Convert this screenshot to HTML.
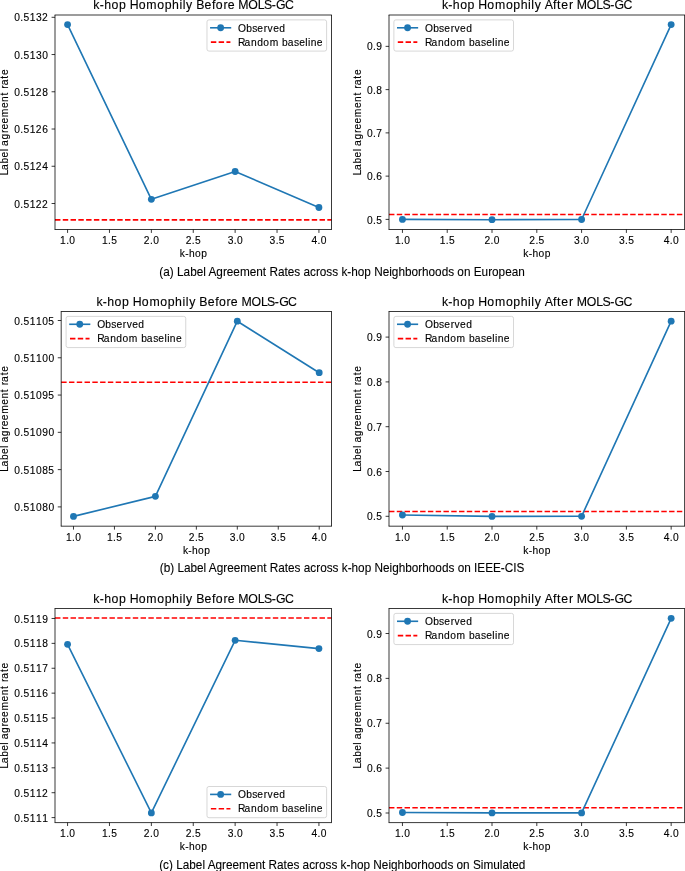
<!DOCTYPE html>
<html><head><meta charset="utf-8"><style>
html,body{margin:0;padding:0;background:#fff;}
body{width:685px;height:871px;overflow:hidden;}
svg{display:block;will-change:transform;}
text{font-family:"Liberation Sans",sans-serif;fill:#000;}
text.c{stroke:#000;stroke-width:0.12px;}
text.cap{stroke:#000;stroke-width:0.1px;}
</style></head><body>
<svg width="685" height="871" viewBox="0 0 685 871">
<rect x="0" y="0" width="685" height="871" fill="#fff"/>
<line x1="55.00" y1="219.85" x2="331.50" y2="219.85" stroke="#ff0000" stroke-width="1.62" stroke-dasharray="5.43 2.35"/>
<polyline points="67.57,24.60 151.36,199.30 235.14,171.50 318.93,207.50" fill="none" stroke="#1f77b4" stroke-width="1.62" stroke-linejoin="round" stroke-linecap="butt"/>
<circle cx="67.57" cy="24.60" r="3.42" fill="#1f77b4"/>
<circle cx="151.36" cy="199.30" r="3.42" fill="#1f77b4"/>
<circle cx="235.14" cy="171.50" r="3.42" fill="#1f77b4"/>
<circle cx="318.93" cy="207.50" r="3.42" fill="#1f77b4"/>
<line x1="55.00" y1="15.00" x2="55.00" y2="229.50" stroke="#000" stroke-width="0.78"/>
<line x1="331.50" y1="15.00" x2="331.50" y2="229.50" stroke="#000" stroke-width="0.78"/>
<line x1="54.61" y1="15.00" x2="331.89" y2="15.00" stroke="#000" stroke-width="0.78"/>
<line x1="54.61" y1="229.50" x2="331.89" y2="229.50" stroke="#000" stroke-width="0.78"/>
<line x1="67.57" y1="229.50" x2="67.57" y2="232.92" stroke="#000" stroke-width="0.78"/>
<text class="c" x="-7.56 -1.43 1.79" y="0" font-size="10.26" transform="translate(67.57 243.80) scale(1.0000 1)">1.0</text>
<line x1="109.46" y1="229.50" x2="109.46" y2="232.92" stroke="#000" stroke-width="0.78"/>
<text class="c" x="-7.56 -1.43 1.77" y="0" font-size="10.26" transform="translate(109.46 243.80) scale(1.0000 1)">1.5</text>
<line x1="151.36" y1="229.50" x2="151.36" y2="232.92" stroke="#000" stroke-width="0.78"/>
<text class="c" x="-7.64 -1.42 1.79" y="0" font-size="10.26" transform="translate(151.36 243.80) scale(1.0000 1)">2.0</text>
<line x1="193.25" y1="229.50" x2="193.25" y2="232.92" stroke="#000" stroke-width="0.78"/>
<text class="c" x="-7.64 -1.42 1.77" y="0" font-size="10.26" transform="translate(193.25 243.80) scale(1.0000 1)">2.5</text>
<line x1="235.14" y1="229.50" x2="235.14" y2="232.92" stroke="#000" stroke-width="0.78"/>
<text class="c" x="-7.50 -1.42 1.79" y="0" font-size="10.26" transform="translate(235.14 243.80) scale(1.0000 1)">3.0</text>
<line x1="277.04" y1="229.50" x2="277.04" y2="232.92" stroke="#000" stroke-width="0.78"/>
<text class="c" x="-7.50 -1.42 1.77" y="0" font-size="10.26" transform="translate(277.04 243.80) scale(1.0000 1)">3.5</text>
<line x1="318.93" y1="229.50" x2="318.93" y2="232.92" stroke="#000" stroke-width="0.78"/>
<text class="c" x="-7.52 -1.42 1.79" y="0" font-size="10.26" transform="translate(318.93 243.80) scale(1.0000 1)">4.0</text>
<text class="c" x="-13.44 -8.08 -4.35 1.73 7.88" y="0" font-size="10.26" transform="translate(193.25 257.00) scale(1.0000 1)">k-hop</text>
<line x1="51.58" y1="203.50" x2="55.00" y2="203.50" stroke="#000" stroke-width="0.78"/>
<text class="c" x="-33.94 -27.84 -24.64 -18.44 -12.30 -6.08" y="0" font-size="10.26" transform="translate(48.16 207.60) scale(1.0000 1)">0.5122</text>
<line x1="51.58" y1="166.26" x2="55.00" y2="166.26" stroke="#000" stroke-width="0.78"/>
<text class="c" x="-33.94 -27.84 -24.64 -18.44 -12.30 -5.97" y="0" font-size="10.26" transform="translate(48.16 170.36) scale(1.0000 1)">0.5124</text>
<line x1="51.58" y1="129.02" x2="55.00" y2="129.02" stroke="#000" stroke-width="0.78"/>
<text class="c" x="-33.94 -27.84 -24.64 -18.44 -12.30 -5.96" y="0" font-size="10.26" transform="translate(48.16 133.12) scale(1.0000 1)">0.5126</text>
<line x1="51.58" y1="91.78" x2="55.00" y2="91.78" stroke="#000" stroke-width="0.78"/>
<text class="c" x="-33.94 -27.84 -24.64 -18.44 -12.30 -5.96" y="0" font-size="10.26" transform="translate(48.16 95.88) scale(1.0000 1)">0.5128</text>
<line x1="51.58" y1="54.54" x2="55.00" y2="54.54" stroke="#000" stroke-width="0.78"/>
<text class="c" x="-33.94 -27.84 -24.64 -18.44 -12.16 -5.97" y="0" font-size="10.26" transform="translate(48.16 58.64) scale(1.0000 1)">0.5130</text>
<line x1="51.58" y1="17.30" x2="55.00" y2="17.30" stroke="#000" stroke-width="0.78"/>
<text class="c" x="-33.94 -27.84 -24.64 -18.44 -12.16 -6.08" y="0" font-size="10.26" transform="translate(48.16 21.40) scale(1.0000 1)">0.5132</text>
<text class="c" x="-52.92 -47.78 -41.26 -35.19 -29.12 -26.63 -23.76 -17.35 -10.85 -7.37 -1.36 4.99 14.17 20.27 26.68 30.04 33.64 36.93 43.62 47.15" y="0" font-size="10.26" transform="translate(8.00 122.25) rotate(-90) scale(1.0000 1)">Label agreement rate</text>
<text class="c" x="-99.97 -93.53 -89.06 -81.76 -74.39 -67.30 -63.61 -54.60 -46.98 -36.00 -28.63 -21.26 -13.84 -10.58 -7.20 -0.66 2.95 11.31 18.82 22.61 30.21 34.39 41.40 45.06 55.06 64.55 70.67 78.49 82.85 91.76" y="0" font-size="12.31" transform="translate(193.25 9.14) scale(1.0000 1)">k-hop Homophily Before MOLS-GC</text>
<rect x="206.97" y="19.88" width="119.65" height="31.20" rx="2" ry="2" fill="#fff" fill-opacity="0.8" stroke="#cccccc" stroke-opacity="0.8" stroke-width="0.98"/>
<line x1="210.87" y1="27.78" x2="230.41" y2="27.78" stroke="#1f77b4" stroke-width="1.62" stroke-linecap="square"/>
<circle cx="220.64" cy="27.78" r="3.42" fill="#1f77b4"/>
<line x1="210.87" y1="42.08" x2="230.41" y2="42.08" stroke="#ff0000" stroke-width="1.62" stroke-dasharray="5.43 2.35"/>
<text class="c" x="-0.15 7.99 13.94 19.15 25.49 29.34 34.96 40.99" y="0" font-size="10.26" transform="translate(238.23 31.88) scale(1.0000 1)">Observed</text>
<text class="c" x="-0.16 6.34 12.81 18.94 25.09 31.44 40.45 43.86 49.53 55.80 61.01 67.07 69.79 72.53 78.64" y="0" font-size="10.26" transform="translate(238.23 46.08) scale(1.0000 1)">Random baseline</text>
<line x1="389.00" y1="214.50" x2="684.60" y2="214.50" stroke="#ff0000" stroke-width="1.62" stroke-dasharray="5.43 2.35"/>
<polyline points="402.44,219.40 492.01,219.70 581.59,219.50 671.16,24.60" fill="none" stroke="#1f77b4" stroke-width="1.62" stroke-linejoin="round" stroke-linecap="butt"/>
<circle cx="402.44" cy="219.40" r="3.42" fill="#1f77b4"/>
<circle cx="492.01" cy="219.70" r="3.42" fill="#1f77b4"/>
<circle cx="581.59" cy="219.50" r="3.42" fill="#1f77b4"/>
<circle cx="671.16" cy="24.60" r="3.42" fill="#1f77b4"/>
<line x1="389.00" y1="15.00" x2="389.00" y2="229.50" stroke="#000" stroke-width="0.78"/>
<line x1="684.60" y1="15.00" x2="684.60" y2="229.50" stroke="#000" stroke-width="0.78"/>
<line x1="388.61" y1="15.00" x2="684.99" y2="15.00" stroke="#000" stroke-width="0.78"/>
<line x1="388.61" y1="229.50" x2="684.99" y2="229.50" stroke="#000" stroke-width="0.78"/>
<line x1="402.44" y1="229.50" x2="402.44" y2="232.92" stroke="#000" stroke-width="0.78"/>
<text class="c" x="-7.56 -1.43 1.79" y="0" font-size="10.26" transform="translate(402.44 243.80) scale(1.0000 1)">1.0</text>
<line x1="447.22" y1="229.50" x2="447.22" y2="232.92" stroke="#000" stroke-width="0.78"/>
<text class="c" x="-7.56 -1.43 1.77" y="0" font-size="10.26" transform="translate(447.22 243.80) scale(1.0000 1)">1.5</text>
<line x1="492.01" y1="229.50" x2="492.01" y2="232.92" stroke="#000" stroke-width="0.78"/>
<text class="c" x="-7.64 -1.42 1.79" y="0" font-size="10.26" transform="translate(492.01 243.80) scale(1.0000 1)">2.0</text>
<line x1="536.80" y1="229.50" x2="536.80" y2="232.92" stroke="#000" stroke-width="0.78"/>
<text class="c" x="-7.64 -1.42 1.77" y="0" font-size="10.26" transform="translate(536.80 243.80) scale(1.0000 1)">2.5</text>
<line x1="581.59" y1="229.50" x2="581.59" y2="232.92" stroke="#000" stroke-width="0.78"/>
<text class="c" x="-7.50 -1.42 1.79" y="0" font-size="10.26" transform="translate(581.59 243.80) scale(1.0000 1)">3.0</text>
<line x1="626.38" y1="229.50" x2="626.38" y2="232.92" stroke="#000" stroke-width="0.78"/>
<text class="c" x="-7.50 -1.42 1.77" y="0" font-size="10.26" transform="translate(626.38 243.80) scale(1.0000 1)">3.5</text>
<line x1="671.16" y1="229.50" x2="671.16" y2="232.92" stroke="#000" stroke-width="0.78"/>
<text class="c" x="-7.52 -1.42 1.79" y="0" font-size="10.26" transform="translate(671.16 243.80) scale(1.0000 1)">4.0</text>
<text class="c" x="-13.44 -8.08 -4.35 1.73 7.88" y="0" font-size="10.26" transform="translate(536.80 257.00) scale(1.0000 1)">k-hop</text>
<line x1="385.58" y1="219.40" x2="389.00" y2="219.40" stroke="#000" stroke-width="0.78"/>
<text class="c" x="-15.29 -9.19 -6.00" y="0" font-size="10.26" transform="translate(382.16 223.50) scale(1.0000 1)">0.5</text>
<line x1="385.58" y1="176.14" x2="389.00" y2="176.14" stroke="#000" stroke-width="0.78"/>
<text class="c" x="-15.29 -9.19 -5.96" y="0" font-size="10.26" transform="translate(382.16 180.24) scale(1.0000 1)">0.6</text>
<line x1="385.58" y1="132.88" x2="389.00" y2="132.88" stroke="#000" stroke-width="0.78"/>
<text class="c" x="-15.29 -9.19 -5.97" y="0" font-size="10.26" transform="translate(382.16 136.98) scale(1.0000 1)">0.7</text>
<line x1="385.58" y1="89.62" x2="389.00" y2="89.62" stroke="#000" stroke-width="0.78"/>
<text class="c" x="-15.29 -9.19 -5.96" y="0" font-size="10.26" transform="translate(382.16 93.72) scale(1.0000 1)">0.8</text>
<line x1="385.58" y1="46.36" x2="389.00" y2="46.36" stroke="#000" stroke-width="0.78"/>
<text class="c" x="-15.29 -9.19 -6.01" y="0" font-size="10.26" transform="translate(382.16 50.46) scale(1.0000 1)">0.9</text>
<text class="c" x="-52.92 -47.78 -41.26 -35.19 -29.12 -26.63 -23.76 -17.35 -10.85 -7.37 -1.36 4.99 14.17 20.27 26.68 30.04 33.64 36.93 43.62 47.15" y="0" font-size="10.26" transform="translate(361.30 122.25) rotate(-90) scale(1.0000 1)">Label agreement rate</text>
<text class="c" x="-94.88 -88.44 -83.97 -76.67 -69.30 -62.21 -58.52 -49.51 -41.89 -30.91 -23.54 -16.17 -8.75 -5.50 -2.11 4.43 8.05 16.26 20.24 24.48 32.08 36.31 39.97 49.97 59.46 65.58 73.40 77.76 86.67" y="0" font-size="12.31" transform="translate(536.80 9.14) scale(1.0000 1)">k-hop Homophily After MOLS-GC</text>
<rect x="393.88" y="19.88" width="119.65" height="31.20" rx="2" ry="2" fill="#fff" fill-opacity="0.8" stroke="#cccccc" stroke-opacity="0.8" stroke-width="0.98"/>
<line x1="397.79" y1="27.78" x2="417.33" y2="27.78" stroke="#1f77b4" stroke-width="1.62" stroke-linecap="square"/>
<circle cx="407.56" cy="27.78" r="3.42" fill="#1f77b4"/>
<line x1="397.79" y1="42.08" x2="417.33" y2="42.08" stroke="#ff0000" stroke-width="1.62" stroke-dasharray="5.43 2.35"/>
<text class="c" x="-0.15 7.99 13.94 19.15 25.49 29.34 34.96 40.99" y="0" font-size="10.26" transform="translate(425.15 31.88) scale(1.0000 1)">Observed</text>
<text class="c" x="-0.16 6.34 12.81 18.94 25.09 31.44 40.45 43.86 49.53 55.80 61.01 67.07 69.79 72.53 78.64" y="0" font-size="10.26" transform="translate(425.15 46.08) scale(1.0000 1)">Random baseline</text>
<line x1="61.20" y1="382.30" x2="331.50" y2="382.30" stroke="#ff0000" stroke-width="1.62" stroke-dasharray="5.43 2.35"/>
<polyline points="73.49,516.40 155.40,496.35 237.30,321.20 319.21,372.70" fill="none" stroke="#1f77b4" stroke-width="1.62" stroke-linejoin="round" stroke-linecap="butt"/>
<circle cx="73.49" cy="516.40" r="3.42" fill="#1f77b4"/>
<circle cx="155.40" cy="496.35" r="3.42" fill="#1f77b4"/>
<circle cx="237.30" cy="321.20" r="3.42" fill="#1f77b4"/>
<circle cx="319.21" cy="372.70" r="3.42" fill="#1f77b4"/>
<line x1="61.20" y1="311.50" x2="61.20" y2="526.20" stroke="#000" stroke-width="0.78"/>
<line x1="331.50" y1="311.50" x2="331.50" y2="526.20" stroke="#000" stroke-width="0.78"/>
<line x1="60.81" y1="311.50" x2="331.89" y2="311.50" stroke="#000" stroke-width="0.78"/>
<line x1="60.81" y1="526.20" x2="331.89" y2="526.20" stroke="#000" stroke-width="0.78"/>
<line x1="73.49" y1="526.20" x2="73.49" y2="529.62" stroke="#000" stroke-width="0.78"/>
<text class="c" x="-7.56 -1.43 1.79" y="0" font-size="10.26" transform="translate(73.49 540.50) scale(1.0000 1)">1.0</text>
<line x1="114.44" y1="526.20" x2="114.44" y2="529.62" stroke="#000" stroke-width="0.78"/>
<text class="c" x="-7.56 -1.43 1.77" y="0" font-size="10.26" transform="translate(114.44 540.50) scale(1.0000 1)">1.5</text>
<line x1="155.40" y1="526.20" x2="155.40" y2="529.62" stroke="#000" stroke-width="0.78"/>
<text class="c" x="-7.64 -1.42 1.79" y="0" font-size="10.26" transform="translate(155.40 540.50) scale(1.0000 1)">2.0</text>
<line x1="196.35" y1="526.20" x2="196.35" y2="529.62" stroke="#000" stroke-width="0.78"/>
<text class="c" x="-7.64 -1.42 1.77" y="0" font-size="10.26" transform="translate(196.35 540.50) scale(1.0000 1)">2.5</text>
<line x1="237.30" y1="526.20" x2="237.30" y2="529.62" stroke="#000" stroke-width="0.78"/>
<text class="c" x="-7.50 -1.42 1.79" y="0" font-size="10.26" transform="translate(237.30 540.50) scale(1.0000 1)">3.0</text>
<line x1="278.26" y1="526.20" x2="278.26" y2="529.62" stroke="#000" stroke-width="0.78"/>
<text class="c" x="-7.50 -1.42 1.77" y="0" font-size="10.26" transform="translate(278.26 540.50) scale(1.0000 1)">3.5</text>
<line x1="319.21" y1="526.20" x2="319.21" y2="529.62" stroke="#000" stroke-width="0.78"/>
<text class="c" x="-7.52 -1.42 1.79" y="0" font-size="10.26" transform="translate(319.21 540.50) scale(1.0000 1)">4.0</text>
<text class="c" x="-13.44 -8.08 -4.35 1.73 7.88" y="0" font-size="10.26" transform="translate(196.35 553.70) scale(1.0000 1)">k-hop</text>
<line x1="57.78" y1="506.90" x2="61.20" y2="506.90" stroke="#000" stroke-width="0.78"/>
<text class="c" x="-40.15 -34.05 -30.86 -24.65 -18.40 -12.18 -5.97" y="0" font-size="10.26" transform="translate(54.36 511.00) scale(1.0000 1)">0.51080</text>
<line x1="57.78" y1="469.62" x2="61.20" y2="469.62" stroke="#000" stroke-width="0.78"/>
<text class="c" x="-40.15 -34.05 -30.86 -24.65 -18.40 -12.18 -6.00" y="0" font-size="10.26" transform="translate(54.36 473.72) scale(1.0000 1)">0.51085</text>
<line x1="57.78" y1="432.34" x2="61.20" y2="432.34" stroke="#000" stroke-width="0.78"/>
<text class="c" x="-40.15 -34.05 -30.86 -24.65 -18.40 -12.23 -5.97" y="0" font-size="10.26" transform="translate(54.36 436.44) scale(1.0000 1)">0.51090</text>
<line x1="57.78" y1="395.06" x2="61.20" y2="395.06" stroke="#000" stroke-width="0.78"/>
<text class="c" x="-40.15 -34.05 -30.86 -24.65 -18.40 -12.23 -6.00" y="0" font-size="10.26" transform="translate(54.36 399.16) scale(1.0000 1)">0.51095</text>
<line x1="57.78" y1="357.78" x2="61.20" y2="357.78" stroke="#000" stroke-width="0.78"/>
<text class="c" x="-40.15 -34.05 -30.86 -24.65 -18.43 -12.19 -5.97" y="0" font-size="10.26" transform="translate(54.36 361.88) scale(1.0000 1)">0.51100</text>
<line x1="57.78" y1="320.50" x2="61.20" y2="320.50" stroke="#000" stroke-width="0.78"/>
<text class="c" x="-40.15 -34.05 -30.86 -24.65 -18.43 -12.19 -6.00" y="0" font-size="10.26" transform="translate(54.36 324.60) scale(1.0000 1)">0.51105</text>
<text class="c" x="-52.92 -47.78 -41.26 -35.19 -29.12 -26.63 -23.76 -17.35 -10.85 -7.37 -1.36 4.99 14.17 20.27 26.68 30.04 33.64 36.93 43.62 47.15" y="0" font-size="10.26" transform="translate(8.00 418.85) rotate(-90) scale(1.0000 1)">Label agreement rate</text>
<text class="c" x="-99.97 -93.53 -89.06 -81.76 -74.39 -67.30 -63.61 -54.60 -46.98 -36.00 -28.63 -21.26 -13.84 -10.58 -7.20 -0.66 2.95 11.31 18.82 22.61 30.21 34.39 41.40 45.06 55.06 64.55 70.67 78.49 82.85 91.76" y="0" font-size="12.31" transform="translate(196.35 305.64) scale(1.0000 1)">k-hop Homophily Before MOLS-GC</text>
<rect x="66.09" y="316.38" width="119.65" height="31.20" rx="2" ry="2" fill="#fff" fill-opacity="0.8" stroke="#cccccc" stroke-opacity="0.8" stroke-width="0.98"/>
<line x1="69.99" y1="324.28" x2="89.53" y2="324.28" stroke="#1f77b4" stroke-width="1.62" stroke-linecap="square"/>
<circle cx="79.76" cy="324.28" r="3.42" fill="#1f77b4"/>
<line x1="69.99" y1="338.58" x2="89.53" y2="338.58" stroke="#ff0000" stroke-width="1.62" stroke-dasharray="5.43 2.35"/>
<text class="c" x="-0.15 7.99 13.94 19.15 25.49 29.34 34.96 40.99" y="0" font-size="10.26" transform="translate(97.35 328.38) scale(1.0000 1)">Observed</text>
<text class="c" x="-0.16 6.34 12.81 18.94 25.09 31.44 40.45 43.86 49.53 55.80 61.01 67.07 69.79 72.53 78.64" y="0" font-size="10.26" transform="translate(97.35 341.99) scale(1.0000 1)">Random baseline</text>
<line x1="389.00" y1="511.50" x2="684.60" y2="511.50" stroke="#ff0000" stroke-width="1.62" stroke-dasharray="5.43 2.35"/>
<polyline points="402.44,515.00 492.01,516.40 581.59,516.30 671.16,321.20" fill="none" stroke="#1f77b4" stroke-width="1.62" stroke-linejoin="round" stroke-linecap="butt"/>
<circle cx="402.44" cy="515.00" r="3.42" fill="#1f77b4"/>
<circle cx="492.01" cy="516.40" r="3.42" fill="#1f77b4"/>
<circle cx="581.59" cy="516.30" r="3.42" fill="#1f77b4"/>
<circle cx="671.16" cy="321.20" r="3.42" fill="#1f77b4"/>
<line x1="389.00" y1="311.50" x2="389.00" y2="526.20" stroke="#000" stroke-width="0.78"/>
<line x1="684.60" y1="311.50" x2="684.60" y2="526.20" stroke="#000" stroke-width="0.78"/>
<line x1="388.61" y1="311.50" x2="684.99" y2="311.50" stroke="#000" stroke-width="0.78"/>
<line x1="388.61" y1="526.20" x2="684.99" y2="526.20" stroke="#000" stroke-width="0.78"/>
<line x1="402.44" y1="526.20" x2="402.44" y2="529.62" stroke="#000" stroke-width="0.78"/>
<text class="c" x="-7.56 -1.43 1.79" y="0" font-size="10.26" transform="translate(402.44 540.50) scale(1.0000 1)">1.0</text>
<line x1="447.22" y1="526.20" x2="447.22" y2="529.62" stroke="#000" stroke-width="0.78"/>
<text class="c" x="-7.56 -1.43 1.77" y="0" font-size="10.26" transform="translate(447.22 540.50) scale(1.0000 1)">1.5</text>
<line x1="492.01" y1="526.20" x2="492.01" y2="529.62" stroke="#000" stroke-width="0.78"/>
<text class="c" x="-7.64 -1.42 1.79" y="0" font-size="10.26" transform="translate(492.01 540.50) scale(1.0000 1)">2.0</text>
<line x1="536.80" y1="526.20" x2="536.80" y2="529.62" stroke="#000" stroke-width="0.78"/>
<text class="c" x="-7.64 -1.42 1.77" y="0" font-size="10.26" transform="translate(536.80 540.50) scale(1.0000 1)">2.5</text>
<line x1="581.59" y1="526.20" x2="581.59" y2="529.62" stroke="#000" stroke-width="0.78"/>
<text class="c" x="-7.50 -1.42 1.79" y="0" font-size="10.26" transform="translate(581.59 540.50) scale(1.0000 1)">3.0</text>
<line x1="626.38" y1="526.20" x2="626.38" y2="529.62" stroke="#000" stroke-width="0.78"/>
<text class="c" x="-7.50 -1.42 1.77" y="0" font-size="10.26" transform="translate(626.38 540.50) scale(1.0000 1)">3.5</text>
<line x1="671.16" y1="526.20" x2="671.16" y2="529.62" stroke="#000" stroke-width="0.78"/>
<text class="c" x="-7.52 -1.42 1.79" y="0" font-size="10.26" transform="translate(671.16 540.50) scale(1.0000 1)">4.0</text>
<text class="c" x="-13.44 -8.08 -4.35 1.73 7.88" y="0" font-size="10.26" transform="translate(536.80 553.70) scale(1.0000 1)">k-hop</text>
<line x1="385.58" y1="516.30" x2="389.00" y2="516.30" stroke="#000" stroke-width="0.78"/>
<text class="c" x="-15.29 -9.19 -6.00" y="0" font-size="10.26" transform="translate(382.16 520.40) scale(1.0000 1)">0.5</text>
<line x1="385.58" y1="471.50" x2="389.00" y2="471.50" stroke="#000" stroke-width="0.78"/>
<text class="c" x="-15.29 -9.19 -5.96" y="0" font-size="10.26" transform="translate(382.16 475.60) scale(1.0000 1)">0.6</text>
<line x1="385.58" y1="426.70" x2="389.00" y2="426.70" stroke="#000" stroke-width="0.78"/>
<text class="c" x="-15.29 -9.19 -5.97" y="0" font-size="10.26" transform="translate(382.16 430.80) scale(1.0000 1)">0.7</text>
<line x1="385.58" y1="381.90" x2="389.00" y2="381.90" stroke="#000" stroke-width="0.78"/>
<text class="c" x="-15.29 -9.19 -5.96" y="0" font-size="10.26" transform="translate(382.16 386.00) scale(1.0000 1)">0.8</text>
<line x1="385.58" y1="337.10" x2="389.00" y2="337.10" stroke="#000" stroke-width="0.78"/>
<text class="c" x="-15.29 -9.19 -6.01" y="0" font-size="10.26" transform="translate(382.16 341.20) scale(1.0000 1)">0.9</text>
<text class="c" x="-52.92 -47.78 -41.26 -35.19 -29.12 -26.63 -23.76 -17.35 -10.85 -7.37 -1.36 4.99 14.17 20.27 26.68 30.04 33.64 36.93 43.62 47.15" y="0" font-size="10.26" transform="translate(361.30 418.85) rotate(-90) scale(1.0000 1)">Label agreement rate</text>
<text class="c" x="-94.88 -88.44 -83.97 -76.67 -69.30 -62.21 -58.52 -49.51 -41.89 -30.91 -23.54 -16.17 -8.75 -5.50 -2.11 4.43 8.05 16.26 20.24 24.48 32.08 36.31 39.97 49.97 59.46 65.58 73.40 77.76 86.67" y="0" font-size="12.31" transform="translate(536.80 305.64) scale(1.0000 1)">k-hop Homophily After MOLS-GC</text>
<rect x="393.88" y="316.38" width="119.65" height="31.20" rx="2" ry="2" fill="#fff" fill-opacity="0.8" stroke="#cccccc" stroke-opacity="0.8" stroke-width="0.98"/>
<line x1="397.79" y1="324.28" x2="417.33" y2="324.28" stroke="#1f77b4" stroke-width="1.62" stroke-linecap="square"/>
<circle cx="407.56" cy="324.28" r="3.42" fill="#1f77b4"/>
<line x1="397.79" y1="338.58" x2="417.33" y2="338.58" stroke="#ff0000" stroke-width="1.62" stroke-dasharray="5.43 2.35"/>
<text class="c" x="-0.15 7.99 13.94 19.15 25.49 29.34 34.96 40.99" y="0" font-size="10.26" transform="translate(425.15 328.38) scale(1.0000 1)">Observed</text>
<text class="c" x="-0.16 6.34 12.81 18.94 25.09 31.44 40.45 43.86 49.53 55.80 61.01 67.07 69.79 72.53 78.64" y="0" font-size="10.26" transform="translate(425.15 341.99) scale(1.0000 1)">Random baseline</text>
<line x1="55.00" y1="618.00" x2="331.50" y2="618.00" stroke="#ff0000" stroke-width="1.62" stroke-dasharray="5.43 2.35"/>
<polyline points="67.57,644.30 151.36,812.90 235.14,640.30 318.93,648.60" fill="none" stroke="#1f77b4" stroke-width="1.62" stroke-linejoin="round" stroke-linecap="butt"/>
<circle cx="67.57" cy="644.30" r="3.42" fill="#1f77b4"/>
<circle cx="151.36" cy="812.90" r="3.42" fill="#1f77b4"/>
<circle cx="235.14" cy="640.30" r="3.42" fill="#1f77b4"/>
<circle cx="318.93" cy="648.60" r="3.42" fill="#1f77b4"/>
<line x1="55.00" y1="608.50" x2="55.00" y2="822.60" stroke="#000" stroke-width="0.78"/>
<line x1="331.50" y1="608.50" x2="331.50" y2="822.60" stroke="#000" stroke-width="0.78"/>
<line x1="54.61" y1="608.50" x2="331.89" y2="608.50" stroke="#000" stroke-width="0.78"/>
<line x1="54.61" y1="822.60" x2="331.89" y2="822.60" stroke="#000" stroke-width="0.78"/>
<line x1="67.57" y1="822.60" x2="67.57" y2="826.02" stroke="#000" stroke-width="0.78"/>
<text class="c" x="-7.56 -1.43 1.79" y="0" font-size="10.26" transform="translate(67.57 836.90) scale(1.0000 1)">1.0</text>
<line x1="109.46" y1="822.60" x2="109.46" y2="826.02" stroke="#000" stroke-width="0.78"/>
<text class="c" x="-7.56 -1.43 1.77" y="0" font-size="10.26" transform="translate(109.46 836.90) scale(1.0000 1)">1.5</text>
<line x1="151.36" y1="822.60" x2="151.36" y2="826.02" stroke="#000" stroke-width="0.78"/>
<text class="c" x="-7.64 -1.42 1.79" y="0" font-size="10.26" transform="translate(151.36 836.90) scale(1.0000 1)">2.0</text>
<line x1="193.25" y1="822.60" x2="193.25" y2="826.02" stroke="#000" stroke-width="0.78"/>
<text class="c" x="-7.64 -1.42 1.77" y="0" font-size="10.26" transform="translate(193.25 836.90) scale(1.0000 1)">2.5</text>
<line x1="235.14" y1="822.60" x2="235.14" y2="826.02" stroke="#000" stroke-width="0.78"/>
<text class="c" x="-7.50 -1.42 1.79" y="0" font-size="10.26" transform="translate(235.14 836.90) scale(1.0000 1)">3.0</text>
<line x1="277.04" y1="822.60" x2="277.04" y2="826.02" stroke="#000" stroke-width="0.78"/>
<text class="c" x="-7.50 -1.42 1.77" y="0" font-size="10.26" transform="translate(277.04 836.90) scale(1.0000 1)">3.5</text>
<line x1="318.93" y1="822.60" x2="318.93" y2="826.02" stroke="#000" stroke-width="0.78"/>
<text class="c" x="-7.52 -1.42 1.79" y="0" font-size="10.26" transform="translate(318.93 836.90) scale(1.0000 1)">4.0</text>
<text class="c" x="-13.44 -8.08 -4.35 1.73 7.88" y="0" font-size="10.26" transform="translate(193.25 850.10) scale(1.0000 1)">k-hop</text>
<line x1="51.58" y1="817.60" x2="55.00" y2="817.60" stroke="#000" stroke-width="0.78"/>
<text class="c" x="-33.94 -27.84 -24.64 -18.43 -12.22 -6.00" y="0" font-size="10.26" transform="translate(48.16 821.70) scale(1.0000 1)">0.5111</text>
<line x1="51.58" y1="792.71" x2="55.00" y2="792.71" stroke="#000" stroke-width="0.78"/>
<text class="c" x="-33.94 -27.84 -24.64 -18.43 -12.22 -6.08" y="0" font-size="10.26" transform="translate(48.16 796.81) scale(1.0000 1)">0.5112</text>
<line x1="51.58" y1="767.82" x2="55.00" y2="767.82" stroke="#000" stroke-width="0.78"/>
<text class="c" x="-33.94 -27.84 -24.64 -18.43 -12.22 -5.95" y="0" font-size="10.26" transform="translate(48.16 771.92) scale(1.0000 1)">0.5113</text>
<line x1="51.58" y1="742.93" x2="55.00" y2="742.93" stroke="#000" stroke-width="0.78"/>
<text class="c" x="-33.94 -27.84 -24.64 -18.43 -12.22 -5.97" y="0" font-size="10.26" transform="translate(48.16 747.03) scale(1.0000 1)">0.5114</text>
<line x1="51.58" y1="718.04" x2="55.00" y2="718.04" stroke="#000" stroke-width="0.78"/>
<text class="c" x="-33.94 -27.84 -24.64 -18.43 -12.22 -6.00" y="0" font-size="10.26" transform="translate(48.16 722.14) scale(1.0000 1)">0.5115</text>
<line x1="51.58" y1="693.15" x2="55.00" y2="693.15" stroke="#000" stroke-width="0.78"/>
<text class="c" x="-33.94 -27.84 -24.64 -18.43 -12.22 -5.96" y="0" font-size="10.26" transform="translate(48.16 697.25) scale(1.0000 1)">0.5116</text>
<line x1="51.58" y1="668.26" x2="55.00" y2="668.26" stroke="#000" stroke-width="0.78"/>
<text class="c" x="-33.94 -27.84 -24.64 -18.43 -12.22 -5.97" y="0" font-size="10.26" transform="translate(48.16 672.36) scale(1.0000 1)">0.5117</text>
<line x1="51.58" y1="643.37" x2="55.00" y2="643.37" stroke="#000" stroke-width="0.78"/>
<text class="c" x="-33.94 -27.84 -24.64 -18.43 -12.22 -5.96" y="0" font-size="10.26" transform="translate(48.16 647.47) scale(1.0000 1)">0.5118</text>
<line x1="51.58" y1="618.48" x2="55.00" y2="618.48" stroke="#000" stroke-width="0.78"/>
<text class="c" x="-33.94 -27.84 -24.64 -18.43 -12.22 -6.01" y="0" font-size="10.26" transform="translate(48.16 622.58) scale(1.0000 1)">0.5119</text>
<text class="c" x="-52.92 -47.78 -41.26 -35.19 -29.12 -26.63 -23.76 -17.35 -10.85 -7.37 -1.36 4.99 14.17 20.27 26.68 30.04 33.64 36.93 43.62 47.15" y="0" font-size="10.26" transform="translate(8.00 715.55) rotate(-90) scale(1.0000 1)">Label agreement rate</text>
<text class="c" x="-99.97 -93.53 -89.06 -81.76 -74.39 -67.30 -63.61 -54.60 -46.98 -36.00 -28.63 -21.26 -13.84 -10.58 -7.20 -0.66 2.95 11.31 18.82 22.61 30.21 34.39 41.40 45.06 55.06 64.55 70.67 78.49 82.85 91.76" y="0" font-size="12.31" transform="translate(193.25 602.64) scale(1.0000 1)">k-hop Homophily Before MOLS-GC</text>
<rect x="206.97" y="786.51" width="119.65" height="31.20" rx="2" ry="2" fill="#fff" fill-opacity="0.8" stroke="#cccccc" stroke-opacity="0.8" stroke-width="0.98"/>
<line x1="210.87" y1="794.41" x2="230.41" y2="794.41" stroke="#1f77b4" stroke-width="1.62" stroke-linecap="square"/>
<circle cx="220.64" cy="794.41" r="3.42" fill="#1f77b4"/>
<line x1="210.87" y1="808.72" x2="230.41" y2="808.72" stroke="#ff0000" stroke-width="1.62" stroke-dasharray="5.43 2.35"/>
<text class="c" x="-0.15 7.99 13.94 19.15 25.49 29.34 34.96 40.99" y="0" font-size="10.26" transform="translate(238.23 797.51) scale(1.0000 1)">Observed</text>
<text class="c" x="-0.16 6.34 12.81 18.94 25.09 31.44 40.45 43.86 49.53 55.80 61.01 67.07 69.79 72.53 78.64" y="0" font-size="10.26" transform="translate(238.23 812.12) scale(1.0000 1)">Random baseline</text>
<line x1="389.00" y1="807.70" x2="684.60" y2="807.70" stroke="#ff0000" stroke-width="1.62" stroke-dasharray="5.43 2.35"/>
<polyline points="402.44,812.50 492.01,812.90 581.59,812.90 671.16,618.30" fill="none" stroke="#1f77b4" stroke-width="1.62" stroke-linejoin="round" stroke-linecap="butt"/>
<circle cx="402.44" cy="812.50" r="3.42" fill="#1f77b4"/>
<circle cx="492.01" cy="812.90" r="3.42" fill="#1f77b4"/>
<circle cx="581.59" cy="812.90" r="3.42" fill="#1f77b4"/>
<circle cx="671.16" cy="618.30" r="3.42" fill="#1f77b4"/>
<line x1="389.00" y1="608.50" x2="389.00" y2="822.60" stroke="#000" stroke-width="0.78"/>
<line x1="684.60" y1="608.50" x2="684.60" y2="822.60" stroke="#000" stroke-width="0.78"/>
<line x1="388.61" y1="608.50" x2="684.99" y2="608.50" stroke="#000" stroke-width="0.78"/>
<line x1="388.61" y1="822.60" x2="684.99" y2="822.60" stroke="#000" stroke-width="0.78"/>
<line x1="402.44" y1="822.60" x2="402.44" y2="826.02" stroke="#000" stroke-width="0.78"/>
<text class="c" x="-7.56 -1.43 1.79" y="0" font-size="10.26" transform="translate(402.44 836.90) scale(1.0000 1)">1.0</text>
<line x1="447.22" y1="822.60" x2="447.22" y2="826.02" stroke="#000" stroke-width="0.78"/>
<text class="c" x="-7.56 -1.43 1.77" y="0" font-size="10.26" transform="translate(447.22 836.90) scale(1.0000 1)">1.5</text>
<line x1="492.01" y1="822.60" x2="492.01" y2="826.02" stroke="#000" stroke-width="0.78"/>
<text class="c" x="-7.64 -1.42 1.79" y="0" font-size="10.26" transform="translate(492.01 836.90) scale(1.0000 1)">2.0</text>
<line x1="536.80" y1="822.60" x2="536.80" y2="826.02" stroke="#000" stroke-width="0.78"/>
<text class="c" x="-7.64 -1.42 1.77" y="0" font-size="10.26" transform="translate(536.80 836.90) scale(1.0000 1)">2.5</text>
<line x1="581.59" y1="822.60" x2="581.59" y2="826.02" stroke="#000" stroke-width="0.78"/>
<text class="c" x="-7.50 -1.42 1.79" y="0" font-size="10.26" transform="translate(581.59 836.90) scale(1.0000 1)">3.0</text>
<line x1="626.38" y1="822.60" x2="626.38" y2="826.02" stroke="#000" stroke-width="0.78"/>
<text class="c" x="-7.50 -1.42 1.77" y="0" font-size="10.26" transform="translate(626.38 836.90) scale(1.0000 1)">3.5</text>
<line x1="671.16" y1="822.60" x2="671.16" y2="826.02" stroke="#000" stroke-width="0.78"/>
<text class="c" x="-7.52 -1.42 1.79" y="0" font-size="10.26" transform="translate(671.16 836.90) scale(1.0000 1)">4.0</text>
<text class="c" x="-13.44 -8.08 -4.35 1.73 7.88" y="0" font-size="10.26" transform="translate(536.80 850.10) scale(1.0000 1)">k-hop</text>
<line x1="385.58" y1="813.00" x2="389.00" y2="813.00" stroke="#000" stroke-width="0.78"/>
<text class="c" x="-15.29 -9.19 -6.00" y="0" font-size="10.26" transform="translate(382.16 817.10) scale(1.0000 1)">0.5</text>
<line x1="385.58" y1="768.12" x2="389.00" y2="768.12" stroke="#000" stroke-width="0.78"/>
<text class="c" x="-15.29 -9.19 -5.96" y="0" font-size="10.26" transform="translate(382.16 772.23) scale(1.0000 1)">0.6</text>
<line x1="385.58" y1="723.25" x2="389.00" y2="723.25" stroke="#000" stroke-width="0.78"/>
<text class="c" x="-15.29 -9.19 -5.97" y="0" font-size="10.26" transform="translate(382.16 727.35) scale(1.0000 1)">0.7</text>
<line x1="385.58" y1="678.38" x2="389.00" y2="678.38" stroke="#000" stroke-width="0.78"/>
<text class="c" x="-15.29 -9.19 -5.96" y="0" font-size="10.26" transform="translate(382.16 682.48) scale(1.0000 1)">0.8</text>
<line x1="385.58" y1="633.50" x2="389.00" y2="633.50" stroke="#000" stroke-width="0.78"/>
<text class="c" x="-15.29 -9.19 -6.01" y="0" font-size="10.26" transform="translate(382.16 637.60) scale(1.0000 1)">0.9</text>
<text class="c" x="-52.92 -47.78 -41.26 -35.19 -29.12 -26.63 -23.76 -17.35 -10.85 -7.37 -1.36 4.99 14.17 20.27 26.68 30.04 33.64 36.93 43.62 47.15" y="0" font-size="10.26" transform="translate(361.30 715.55) rotate(-90) scale(1.0000 1)">Label agreement rate</text>
<text class="c" x="-94.88 -88.44 -83.97 -76.67 -69.30 -62.21 -58.52 -49.51 -41.89 -30.91 -23.54 -16.17 -8.75 -5.50 -2.11 4.43 8.05 16.26 20.24 24.48 32.08 36.31 39.97 49.97 59.46 65.58 73.40 77.76 86.67" y="0" font-size="12.31" transform="translate(536.80 602.64) scale(1.0000 1)">k-hop Homophily After MOLS-GC</text>
<rect x="393.88" y="613.38" width="119.65" height="31.20" rx="2" ry="2" fill="#fff" fill-opacity="0.8" stroke="#cccccc" stroke-opacity="0.8" stroke-width="0.98"/>
<line x1="397.79" y1="621.28" x2="417.33" y2="621.28" stroke="#1f77b4" stroke-width="1.62" stroke-linecap="square"/>
<circle cx="407.56" cy="621.28" r="3.42" fill="#1f77b4"/>
<line x1="397.79" y1="635.59" x2="417.33" y2="635.59" stroke="#ff0000" stroke-width="1.62" stroke-dasharray="5.43 2.35"/>
<text class="c" x="-0.15 7.99 13.94 19.15 25.49 29.34 34.96 40.99" y="0" font-size="10.26" transform="translate(425.15 625.38) scale(1.0000 1)">Observed</text>
<text class="c" x="-0.16 6.34 12.81 18.94 25.09 31.44 40.45 43.86 49.53 55.80 61.01 67.07 69.79 72.53 78.64" y="0" font-size="10.26" transform="translate(425.15 638.99) scale(1.0000 1)">Random baseline</text>
<text class="cap" x="159.36" y="276.00" font-size="12.20" textLength="365.47" lengthAdjust="spacingAndGlyphs">(a) Label Agreement Rates across k-hop Neighborhoods on European</text>
<text class="cap" x="159.76" y="572.40" font-size="12.20" textLength="364.66" lengthAdjust="spacingAndGlyphs">(b) Label Agreement Rates across k-hop Neighborhoods on IEEE-CIS</text>
<text class="cap" x="159.16" y="868.60" font-size="12.20" textLength="366.19" lengthAdjust="spacingAndGlyphs">(c) Label Agreement Rates across k-hop Neighborhoods on Simulated</text>
</svg>
</body></html>
